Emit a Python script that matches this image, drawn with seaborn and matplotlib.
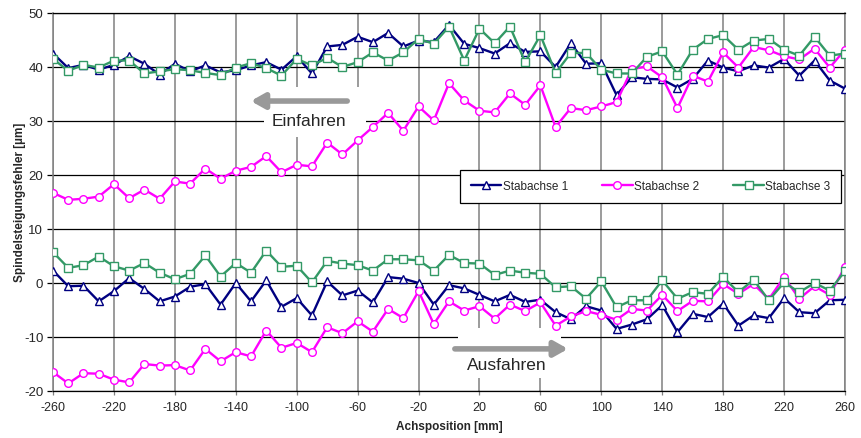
import pandas as pd
import matplotlib.pyplot as plt
import seaborn as sns
from matplotlib.patches import Rectangle

# Achsposition in mm
pos = list(range(-260, 261, 10))

# Einfahren (obere Kurvenschar)
ein_1 = [42.5, 39.8, 40.4, 39.5, 40.4, 42.0, 40.6, 38.6, 40.6, 39.2, 40.3, 39.0, 39.4, 40.3,
         40.9, 39.5, 42.0, 38.8, 43.8, 44.1, 45.6, 44.6, 46.3, 43.8, 44.9, 44.6, 47.8,
         44.3, 43.5, 42.5, 44.4, 42.8, 42.9, 40.0, 44.4, 40.6, 40.7, 34.8, 38.1, 37.8,
         37.7, 36.2, 37.8, 41.2, 39.9, 39.2, 40.3, 39.9, 41.5, 38.4, 41.2, 37.5, 36.0]
ein_2 = [16.7, 15.4, 15.6, 16.0, 18.3, 15.7, 17.3, 15.6, 18.8, 18.4, 21.2, 19.3, 20.8, 21.5,
         23.5, 20.5, 21.9, 21.6, 26.0, 23.8, 26.4, 28.9, 31.5, 28.2, 32.7, 30.1, 37.0,
         33.8, 31.9, 31.6, 35.1, 33.0, 36.6, 28.9, 32.4, 32.0, 32.7, 33.5, 39.6, 40.1,
         38.1, 32.4, 38.4, 37.3, 42.7, 39.9, 43.7, 43.1, 42.0, 41.4, 43.4, 39.9, 43.2]
ein_3 = [41.5, 39.3, 40.4, 39.9, 41.2, 41.2, 38.8, 39.2, 39.6, 39.4, 38.9, 38.5, 39.9, 40.7,
         39.8, 38.4, 41.5, 40.3, 41.7, 40.0, 40.9, 42.7, 41.2, 42.7, 45.2, 44.3, 47.5,
         41.2, 47.1, 44.4, 47.5, 40.9, 45.9, 38.9, 42.6, 42.6, 39.5, 38.8, 38.8, 41.9,
         42.9, 38.6, 43.2, 45.2, 45.9, 43.2, 44.9, 45.2, 43.2, 42.1, 45.6, 42.1, 42.5]

# Ausfahren (untere Kurvenschar)
aus_1 = [2.3, -0.6, -0.5, -3.4, -1.5, 0.9, -1.1, -3.4, -2.5, -0.7, -0.2, -4.0, 0.0, -3.4,
         0.5, -4.4, -2.8, -6.0, 0.3, -2.3, -1.4, -3.6, 1.1, 0.8, 0.0, -4.0, -0.4,
         -1.0, -2.2, -3.4, -2.2, -3.5, -3.1, -5.4, -6.7, -4.3, -5.1, -8.5, -7.7, -6.7,
         -4.1, -9.1, -5.7, -6.3, -3.8, -7.9, -6.0, -6.5, -2.8, -5.4, -5.6, -3.2, -3.1]
aus_2 = [-16.5, -18.6, -16.7, -16.8, -17.9, -18.4, -15.0, -15.3, -15.2, -16.2, -12.2, -14.5,
         -12.8, -13.6, -8.8, -12.0, -11.1, -12.8, -8.2, -9.3, -7.1, -9.0, -4.8, -6.5, -1.5,
         -7.6, -3.4,
         -5.1, -4.3, -6.6, -4.0, -5.2, -3.6, -7.9, -6.2, -5.2, -5.9, -6.8, -4.8, -5.1,
         -2.2, -5.2, -3.3, -3.4, -0.2, -2.0, -0.2, -3.0, 1.1, -2.9, -0.6, -2.2, 3.0]
aus_3 = [5.7, 2.8, 3.3, 4.9, 3.1, 2.3, 3.7, 1.9, 0.7, 1.7, 5.1, 1.2, 3.7, 1.9,
         6.0, 3.0, 3.2, 0.1, 4.1, 3.6, 3.3, 2.3, 4.4, 4.4, 4.2, 2.3, 5.2,
         3.7, 3.6, 1.5, 2.3, 1.9, 1.7, -0.8, -0.6, -2.9, 0.3, -4.5, -3.2, -3.2,
         0.5, -2.9, -1.7, -2.0, 1.1, -1.7, 0.6, -3.2, 0.1, -1.7, 0.0, -1.4, 2.2]

series_names = ["Stabachse 1", "Stabachse 2", "Stabachse 3"]
colors = ["#000080", "#FF00FF", "#339966"]
markers = ["^", "o", "s"]

frames = []
for name, ein, aus in zip(series_names, [ein_1, ein_2, ein_3], [aus_1, aus_2, aus_3]):
    frames.append(pd.DataFrame({"pos": pos, "wert": ein, "achse": name, "richtung": "Einfahren"}))
    frames.append(pd.DataFrame({"pos": pos, "wert": aus, "achse": name, "richtung": "Ausfahren"}))
df = pd.concat(frames, ignore_index=True)

sns.set_style("white")
plt.rcParams["font.family"] = ["Liberation Sans", "DejaVu Sans"]
plt.rcParams["axes.unicode_minus"] = False

fig = plt.figure(figsize=(8.61, 4.38), dpi=100)
ax = fig.add_axes([0.0616, 0.1073, 0.9198, 0.863])

# weisse Kaesten hinter den Pfeil-Beschriftungen
ax.add_patch(Rectangle((0.266, 0.673), 0.129, 0.132, transform=ax.transAxes,
                       facecolor="white", edgecolor="none", zorder=1.5))
ax.add_patch(Rectangle((0.511, 0.034), 0.131, 0.132, transform=ax.transAxes,
                       facecolor="white", edgecolor="none", zorder=1.5))

handles = []
for name, col, mk in zip(series_names, colors, markers):
    for richtung in ["Einfahren", "Ausfahren"]:
        sub = df[(df["achse"] == name) & (df["richtung"] == richtung)]
        sns.lineplot(data=sub, x="pos", y="wert", color=col, marker=mk, lw=1.7,
                     markersize=5.5 if mk != "^" else 6, markerfacecolor="white",
                     markeredgecolor=col, markeredgewidth=1.0, ax=ax, zorder=3,
                     legend=False)
    handles.append(ax.lines[-1])

ax.set_xlim(-260, 260)
ax.set_ylim(-20, 50)
ax.set_xticks(range(-260, 261, 40))
ax.set_yticks(range(-20, 51, 10))

ax.yaxis.grid(True, color="black", lw=0.9)
ax.xaxis.grid(True, color="#808080", lw=1.1)
ax.set_axisbelow(True)
for s in ["top", "bottom"]:
    ax.spines[s].set_color("black")
    ax.spines[s].set_linewidth(0.9)
for s in ["left", "right"]:
    ax.spines[s].set_color("#808080")
    ax.spines[s].set_linewidth(1.1)

ax.tick_params(axis="y", direction="out", length=4, width=0.9, color="black",
               labelsize=9.5, left=True, pad=3)
ax.tick_params(axis="x", direction="out", length=3, width=0.9, color="#808080",
               labelsize=9, bottom=True, pad=5)

ax.set_xlabel("Achsposition [mm]", fontsize=8.5, fontweight="bold", labelpad=5)
ax.set_ylabel("Spindelsteigungsfehler [µm]", fontsize=8.5, fontweight="bold")
ax.yaxis.set_label_coords(-0.034, 0.5)

# Pfeile mit Beschriftung
ax.annotate("", xy=(-132, 33.7), xytext=(-65, 33.7),
            arrowprops=dict(arrowstyle="-|>,head_length=0.8,head_width=0.45",
                            color="#999999", lw=4), zorder=2)
ax.text(-92, 30, "Einfahren", fontsize=12.5, ha="center", va="center", zorder=2)
ax.annotate("", xy=(80, -12.2), xytext=(2, -12.2),
            arrowprops=dict(arrowstyle="-|>,head_length=0.8,head_width=0.45",
                            color="#999999", lw=4), zorder=2)
ax.text(38, -15.2, "Ausfahren", fontsize=12.5, ha="center", va="center", zorder=2)

leg = ax.legend(handles, series_names, loc="center", ncol=3, mode="expand",
                bbox_to_anchor=(0.514, 0.479, 0.481, 0.124), fontsize=8.5,
                frameon=True, fancybox=False, framealpha=1, edgecolor="black",
                handlelength=2.6, handletextpad=0.1, borderaxespad=0, borderpad=0.9)
leg.get_frame().set_linewidth(0.9)
leg.set_zorder(5)

fig.savefig("out.png", dpi=100)
